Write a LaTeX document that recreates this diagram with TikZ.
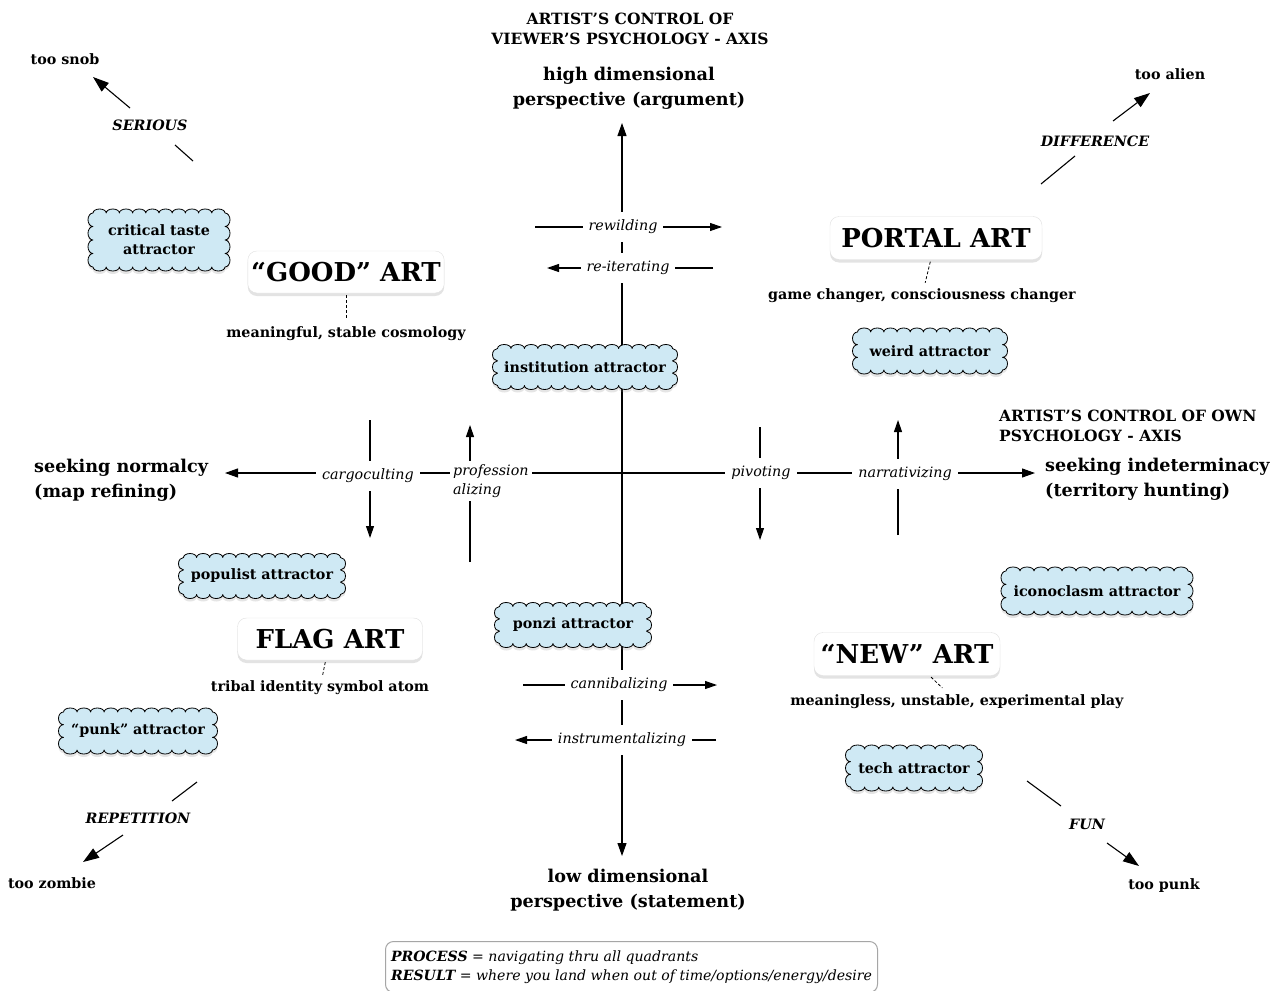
\documentclass[tikz,border=0pt]{standalone}
\usepackage{fontspec}
\setmainfont{DejaVu Serif}
\usetikzlibrary{arrows.meta,shadows}
\definecolor{cloudblue}{HTML}{CFE9F4}
\newcommand\myfsm{\fontsize{14.3}{19}\selectfont}
\newcommand\myfax{\fontsize{17.6}{25}\selectfont\bfseries}
\newcommand\myftit{\fontsize{15.5}{19.5}\selectfont\bfseries}
\newcommand\myfbig{\fontsize{26}{30}\selectfont\bfseries}
% #1 name, #2 x, #3 y, #4 inner width, #5 inner height, #6 top bumps, #7 side bumps, #8 text
\newcommand\mycloud[8]{%
  \pgfmathsetmacro\cbr{#4/#6/2}%
  \pgfmathsetmacro\csr{#5/#7/2}%
  \draw[cloudline] ({#2-#4/2},{#3-#5/2})
    \foreach \ci in {1,...,#6} { arc[start angle=180,end angle=0,x radius=\cbr pt,y radius=4pt] }
    \foreach \ci in {1,...,#7} { arc[start angle=90,end angle=-90,x radius=5pt,y radius=\csr pt] }
    \foreach \ci in {1,...,#6} { arc[start angle=0,end angle=-180,x radius=\cbr pt,y radius=4pt] }
    \foreach \ci in {1,...,#7} { arc[start angle=270,end angle=90,x radius=5pt,y radius=\csr pt] }
    -- cycle;
  \node[cloudtext] (#1) at (#2,#3) {#8};
}
\begin{document}
\begin{tikzpicture}[x=1pt,y=-1pt,
  ln/.style={line width=1.1pt},
  arr/.style={ln,-{Triangle[length=12pt,width=8pt]}},
  darr/.style={ln,{Triangle[length=13pt,width=9pt]}-{Triangle[length=13pt,width=9pt]}},
  bigarr/.style={ln,-{Triangle[length=16pt,width=11pt]}},
  lbl/.style={fill=white,inner xsep=6pt,inner ysep=8pt,font=\myfsm\itshape},
  cloudline/.style={draw=black,line width=0.8pt,fill=cloudblue,line join=round,
    drop shadow={opacity=0.2,shadow xshift=0pt,shadow yshift=-3pt}},
  cloudtext/.style={font=\myfsm\bfseries,align=center,inner sep=0pt},
  artbox/.style={draw=black!12,fill=white,rounded corners=9pt,font=\myfbig,
    drop shadow={opacity=0.22,shadow xshift=0pt,shadow yshift=-3pt}},
  captxt/.style={font=\myfsm\bfseries,inner sep=2pt},
  dashln/.style={line width=0.8pt,dash pattern=on 3pt off 2pt},
  axlbl/.style={font=\myfax,align=center,inner sep=0pt},
  ttl/.style={font=\myftit,inner sep=0pt},
  dlbl/.style={font=\myfsm\bfseries\itshape,inner sep=1pt},
  endl/.style={font=\myfsm\bfseries,inner sep=1pt}
]
\fill[white] (0,0) rectangle (1281,990);
\path[use as bounding box] (0,0) rectangle (1281,990);

% coordinates
\coordinate (vTop) at (622,123);
\coordinate (vBot) at (622,856);
\coordinate (hL) at (225,473);
\coordinate (hR) at (1035,473);
\coordinate (rwA) at (535,227); \coordinate (rwB) at (722,227);
\coordinate (riA) at (713,268); \coordinate (riB) at (547,268);
\coordinate (caA) at (523,685); \coordinate (caB) at (717,685);
\coordinate (inA) at (716,740); \coordinate (inB) at (515,740);
\coordinate (cgA) at (370,420); \coordinate (cgB) at (370,538);
\coordinate (prA) at (470,562); \coordinate (prB) at (470,425);
\coordinate (pvA) at (760,427); \coordinate (pvB) at (760,540);
\coordinate (naA) at (898,535); \coordinate (naB) at (898,420);

% axes
\draw[darr] (vBot) -- (vTop);
\draw[darr] (hL) -- (hR);
% small arrows
\draw[arr] (cgA) -- (cgB);
\draw[arr] (prA) -- (prB);
\draw[arr] (pvA) -- (pvB);
\draw[arr] (naA) -- (naB);
\draw[arr] (rwA) -- (rwB);
\draw[arr] (riA) -- (riB);
\draw[arr] (caA) -- (caB);
\draw[arr] (inA) -- (inB);

% labels
\node[lbl] (rw) at (623,227) {rewilding};
\node[lbl] (ri) at (628,268) {re-iterating};
\node[lbl] (ca) at (619,685) {cannibalizing};
\node[lbl] (in) at (622,740) {instrumentalizing};
\node[lbl] (cg) at (368,476) {cargoculting};
\node[lbl,align=left,inner ysep=3pt,inner xsep=3pt,anchor=west] (pr) at (450,481) {profession\\alizing};
\node[lbl] (pv) at (761,473) {pivoting};
\node[lbl] (na) at (905,474) {narrativizing};

% titles and axis ends
\node[ttl,align=center] (tV) at (630,29) {ARTIST’S CONTROL OF\\VIEWER’S PSYCHOLOGY - AXIS};
\node[ttl,align=left,anchor=west] (tO) at (999,426) {ARTIST’S CONTROL OF OWN\\PSYCHOLOGY - AXIS};
\node[axlbl] (hi) at (629,88) {high dimensional\\perspective (argument)};
\node[axlbl] (lo) at (628,890) {low dimensional\\perspective (statement)};
\node[axlbl,align=left,anchor=west] (norm) at (34,480) {seeking normalcy\\(map refining)};
\node[axlbl,align=left,anchor=west] (indet) at (1045,479) {seeking indeterminacy\\(territory hunting)};

% clouds
\mycloud{crit}{159}{240}{132}{54}{10}{4}{critical taste\\attractor}
\mycloud{weird}{930}{351}{145}{38}{11}{3}{weird attractor}
\mycloud{inst}{585}{367}{175}{37}{13}{3}{institution attractor}
\mycloud{popu}{262}{576}{157}{37}{12}{3}{populist attractor}
\mycloud{icon}{1097}{591}{182}{40}{13}{3}{iconoclasm attractor}
\mycloud{ponzi}{573}{625}{147}{37}{11}{3}{ponzi attractor}
\mycloud{punk}{138}{731}{149}{38}{11}{3}{“punk” attractor}
\mycloud{tech}{914}{768}{127}{38}{9}{3}{tech attractor}

% art boxes
\node[artbox,minimum width=193pt,minimum height=42pt] (good) at (346,272) {“GOOD” ART};
\node[artbox,minimum width=212pt,minimum height=43pt] (portal) at (936,238) {PORTAL ART};
\node[artbox,minimum width=185pt,minimum height=42pt] (flag) at (330,639) {FLAG ART};
\node[artbox,minimum width=186pt,minimum height=43pt] (new) at (907,654) {“NEW” ART};

\node[captxt] (goodcap) at (346,334) {meaningful, stable cosmology};
\node[captxt] (portalcap) at (922,296) {game changer, consciousness changer};
\node[captxt] (flagcap) at (320,688) {tribal identity symbol atom};
\node[captxt] (newcap) at (957,702) {meaningless, unstable, experimental play};

\draw[dashln,shorten <=2pt,shorten >=5pt] (good) -- (goodcap);
\draw[dashln,shorten <=2pt,shorten >=4pt] (portal) -- (portalcap);
\draw[dashln,shorten <=2pt,shorten >=4pt] (flag) -- (flagcap);
\draw[dashln,shorten <=2pt,shorten >=7pt] (new) -- (newcap);

% diagonal directions
\node[endl] (snob) at (65,59) {too snob};
\node[dlbl] (ser) at (150,125) {SERIOUS};
\coordinate (se1) at (193,161); \coordinate (se2) at (175,145);
\coordinate (se3) at (130,108); \coordinate (se4) at (93,77);
\draw[ln] (se1) -- (se2);
\draw[bigarr] (se3) -- (se4);

\node[endl] (alien) at (1170,74) {too alien};
\node[dlbl] (dif) at (1095,141) {DIFFERENCE};
\coordinate (df1) at (1041,184); \coordinate (df2) at (1075,156);
\coordinate (df3) at (1113,121); \coordinate (df4) at (1150,93);
\draw[ln] (df1) -- (df2);
\draw[bigarr] (df3) -- (df4);

\node[endl] (zombie) at (52,883) {too zombie};
\node[dlbl] (rep) at (138,818) {REPETITION};
\coordinate (rp1) at (197,782); \coordinate (rp2) at (172,801);
\coordinate (rp3) at (123,835); \coordinate (rp4) at (83,862);
\draw[ln] (rp1) -- (rp2);
\draw[bigarr] (rp3) -- (rp4);

\node[endl] (tpunk) at (1164,886) {too punk};
\node[dlbl] (fun) at (1087,824) {FUN};
\coordinate (fn1) at (1027,781); \coordinate (fn2) at (1061,806);
\coordinate (fn3) at (1107,843); \coordinate (fn4) at (1139,866);
\draw[ln] (fn1) -- (fn2);
\draw[bigarr] (fn3) -- (fn4);

% legend
\node[draw=black!35,line width=1pt,fill=white,rounded corners=8pt,anchor=north west,
  minimum width=492pt,inner xsep=3pt,inner ysep=9pt,align=left,font=\fontsize{14.1}{19}\selectfont\itshape,
  drop shadow={opacity=0.15,shadow xshift=0pt,shadow yshift=-2pt}] (legend) at (385,941)
  {\textbf{PROCESS} = navigating thru all quadrants\\\textbf{RESULT} = where you land when out of time/options/energy/desire};
\end{tikzpicture}
\end{document}
